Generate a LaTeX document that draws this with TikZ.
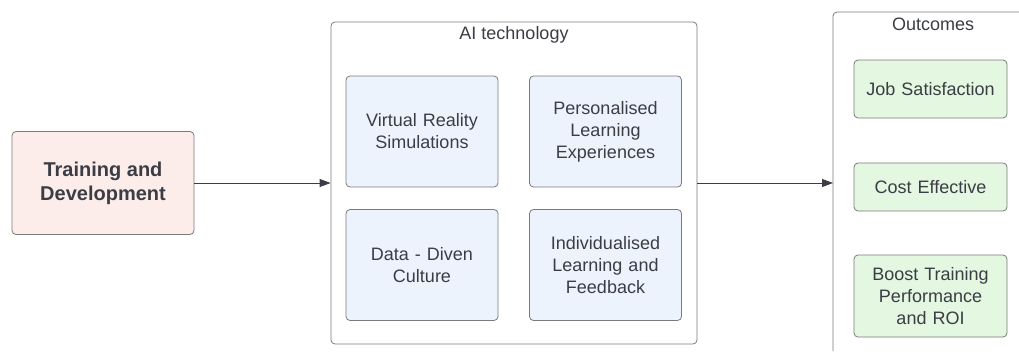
\documentclass[tikz,border=0pt]{standalone}
\usepackage{fontspec}
\setmainfont{Liberation Sans}
\usetikzlibrary{arrows.meta}
\definecolor{txtgray}{HTML}{3B3D45}
\definecolor{boxgray}{HTML}{7A7A7A}
\definecolor{pinkfill}{HTML}{FCEDEB}
\definecolor{bluefill}{HTML}{EDF3FD}
\definecolor{greenfill}{HTML}{E3F7E1}
\begin{document}
\begin{tikzpicture}[x=1pt,y=-1pt,
		line width=0.8pt,
		arr/.style={-{Triangle[length=11pt,width=8pt]},draw=txtgray,line width=0.8pt},
		main box/.style={rectangle,rounded corners=4pt,draw=boxgray,text=txtgray,align=center,
			font=\fontsize{18}{22}\selectfont,inner sep=2pt},
		tech box/.style={main box,fill=bluefill,minimum width=152pt,minimum height=111pt,text width=140pt},
		result box/.style={main box,fill=greenfill,minimum width=153pt,text width=145pt},
		title/.style={text=txtgray,font=\fontsize{18}{22}\selectfont}]
		
		\useasboundingbox (0,0) rectangle (1019,351);
		
		\node[main box,fill=pinkfill,minimum width=182pt,minimum height=103pt,
			font=\fontsize{20}{24}\selectfont\bfseries] (train) at (103,183) {Training and\\Development};
		
		% AI technology group
		\node[main box,minimum width=366pt,minimum height=322pt] (ai) at (514,183) {};
		\node[title] (aititle) at (514,35) {AI technology};
		\node[tech box] (vr) at (422,131.5) {Virtual Reality\\Simulations};
		\node[tech box] (ple) at (605.5,131.5) {Personalised\\Learning\\Experiences};
		\node[tech box] (data) at (422,265) {Data - Diven\\Culture};
		\node[tech box] (ind) at (605.5,265) {Individualised\\Learning and\\Feedback};
		
		% Outcomes group (runs off the page)
		\draw[boxgray,rounded corners=4pt] (1019,12) -- (833,12) -- (833,351);
		\coordinate (outL) at (833,183);
		\node[title] (outtitle) at (933,24) {Outcomes};
		\node[result box,minimum height=58pt] (job) at (930.5,89) {Job Satisfaction};
		\node[result box,minimum height=48pt] (cost) at (930.5,187) {Cost Effective};
		\node[result box,minimum height=82pt] (boost) at (930.5,296) {Boost Training\\Performance\\and ROI};
		
		\draw[arr] (train.east) -- (ai.west);
		\draw[arr] (ai.east) -- (outL);
\end{tikzpicture}
\end{document}
